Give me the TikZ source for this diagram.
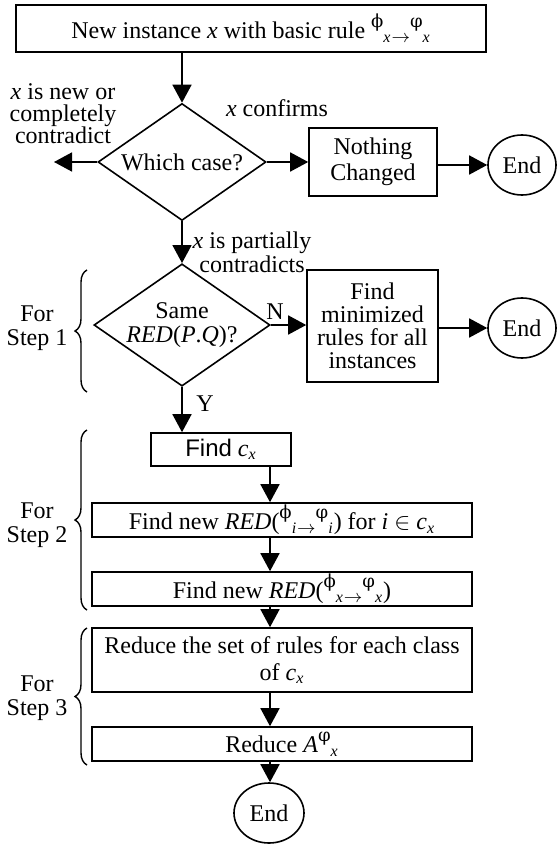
\documentclass[tikz,border=0pt]{standalone}
\usepackage{fontspec}
\setmainfont{Liberation Serif}
\newfontfamily\sansfnt{Liberation Sans}
\newfontfamily\greekfnt{DejaVu Serif}
\usetikzlibrary{shapes.geometric, arrows.meta, decorations.pathreplacing}

% phi_{#1 ->} varphi_{#1} as printed in the boxes
\newcommand{\rulexy}[1]{\raisebox{1ex}{\greekfnt\small ϕ}\textsubscript{\textit{#1}}\raisebox{-.35ex}{\small$\rightarrow$}\raisebox{1ex}{\greekfnt\small φ}\textsubscript{\textit{#1}}}

\begin{document}
\begin{tikzpicture}[>={Triangle[length=9pt,width=9.5pt]}, x=0.5pt, y=-0.5pt, line width=0.8pt,
    every node/.style={font=\fontsize{12}{12}\selectfont},
    box/.style={draw, rectangle, inner sep=0pt, align=center},
    dia/.style={draw, diamond, aspect=1.44, inner sep=0pt, align=center, minimum width=84pt, minimum height=58.5pt},
    term/.style={draw, ellipse, inner sep=0pt, minimum width=34pt, minimum height=30pt},
    lbl/.style={align=center, inner sep=0pt},
    curly/.style={decorate, decoration={brace, amplitude=6pt}, line width=0.7pt}]
    \useasboundingbox (0,0) rectangle (557,845);
    \coordinate (col2) at (270,0);

    % input
    \node[box, minimum width=235pt, minimum height=23.5pt] (input) at (251,28.5) {New instance \textit{x} with basic rule \rulexy{x}};

    % which case
    \node[dia] (case) at (182,162) {Which case?};
    \coordinate (newtip) at (54,162);
    \node[lbl, font=\fontsize{12}{11}\selectfont] (newlbl) at (63,114) {\textit{x} is new or\\completely\\contradict};
    \node[lbl] (conflbl) at (277,108) {\textit{x} confirms};
    \node[box, minimum width=64pt, minimum height=34pt, font=\fontsize{12}{13}\selectfont] (nothing) at (373,162) {Nothing\\Changed};
    \node[term] (endA) at (522,165) {End};
    \draw[->] (input.south -| case.north) -- (case.north);
    \draw[->] (case.west) -- (newtip);
    \draw[->] (case.east) -- (nothing.west);
    \draw[->] (nothing.east |- endA.west) -- (endA.west);

    % Step 1
    \node[dia] (same) at (182,325) {Same\\\textit{RED}(\textit{P}.\textit{Q})?};
    \node[lbl, font=\fontsize{12}{10}\selectfont] (partlbl) at (252,252) {\textit{x} is partially\\contradicts};
    \node[lbl] (nlbl) at (275,312) {N};
    \node[box, minimum width=65.5pt, minimum height=56pt, font=\fontsize{12}{11.5}\selectfont] (minim) at (372.5,326) {Find\\minimized\\rules for all\\instances};
    \node[term] (endB) at (522,328) {End};
    \node[lbl] (step1lbl) at (37,328) {For\\Step 1};
    \draw[->] (case.south) -- (same.north);
    \draw[->] (same.east) -- (same.east -| minim.west);
    \draw[->] (minim.east |- endB.west) -- (endB.west);
    \draw[curly] (87,392) -- (87,270);

    % Step 2
    \node[lbl] (ylbl) at (205,404) {Y};
    \node[box, minimum width=70pt, minimum height=16.5pt] (findc) at (221,449.5) {{\sansfnt Find} \textit{c}\textsubscript{\textit{x}}};
    \node[box, minimum width=190pt, minimum height=17pt] (redi) at (282,520) {Find new \textit{RED}(\rulexy{i}) for \textit{i} $\in$ \textit{c}\textsubscript{\textit{x}}};
    \node[box, minimum width=190pt, minimum height=17pt] (redx) at (282,589) {Find new \textit{RED}(\rulexy{x})};
    \node[lbl] (step2lbl) at (37,525) {For\\Step 2};
    \draw[->] (same.south) -- (findc.north -| same.south);
    \draw[->] (findc.south -| col2) -- (redi.north -| col2);
    \draw[->] (redi.south -| col2) -- (redx.north -| col2);
    \draw[curly] (87,610) -- (87,430);

    % Step 3
    \node[box, minimum width=190pt, minimum height=32pt, font=\fontsize{12}{13.5}\selectfont] (reduce) at (282,660) {Reduce the set of rules for each class\\of \textit{c}\textsubscript{\textit{x}}};
    \node[box, minimum width=190pt, minimum height=17pt] (reda) at (282,744) {Reduce \textit{A}\raisebox{1ex}{\greekfnt\small φ}\textsubscript{\textit{x}}};
    \node[term, minimum width=35pt] (endC) at (269,813) {End};
    \node[lbl] (step3lbl) at (37,698) {For\\Step 3};
    \draw[->] (redx.south -| col2) -- (reduce.north -| col2);
    \draw[->] (reduce.south -| col2) -- (reda.north -| col2);
    \draw[->] (reda.south -| col2) -- (endC.north -| col2);
    \draw[curly] (87,765) -- (87,628);
\end{tikzpicture}
\end{document}
